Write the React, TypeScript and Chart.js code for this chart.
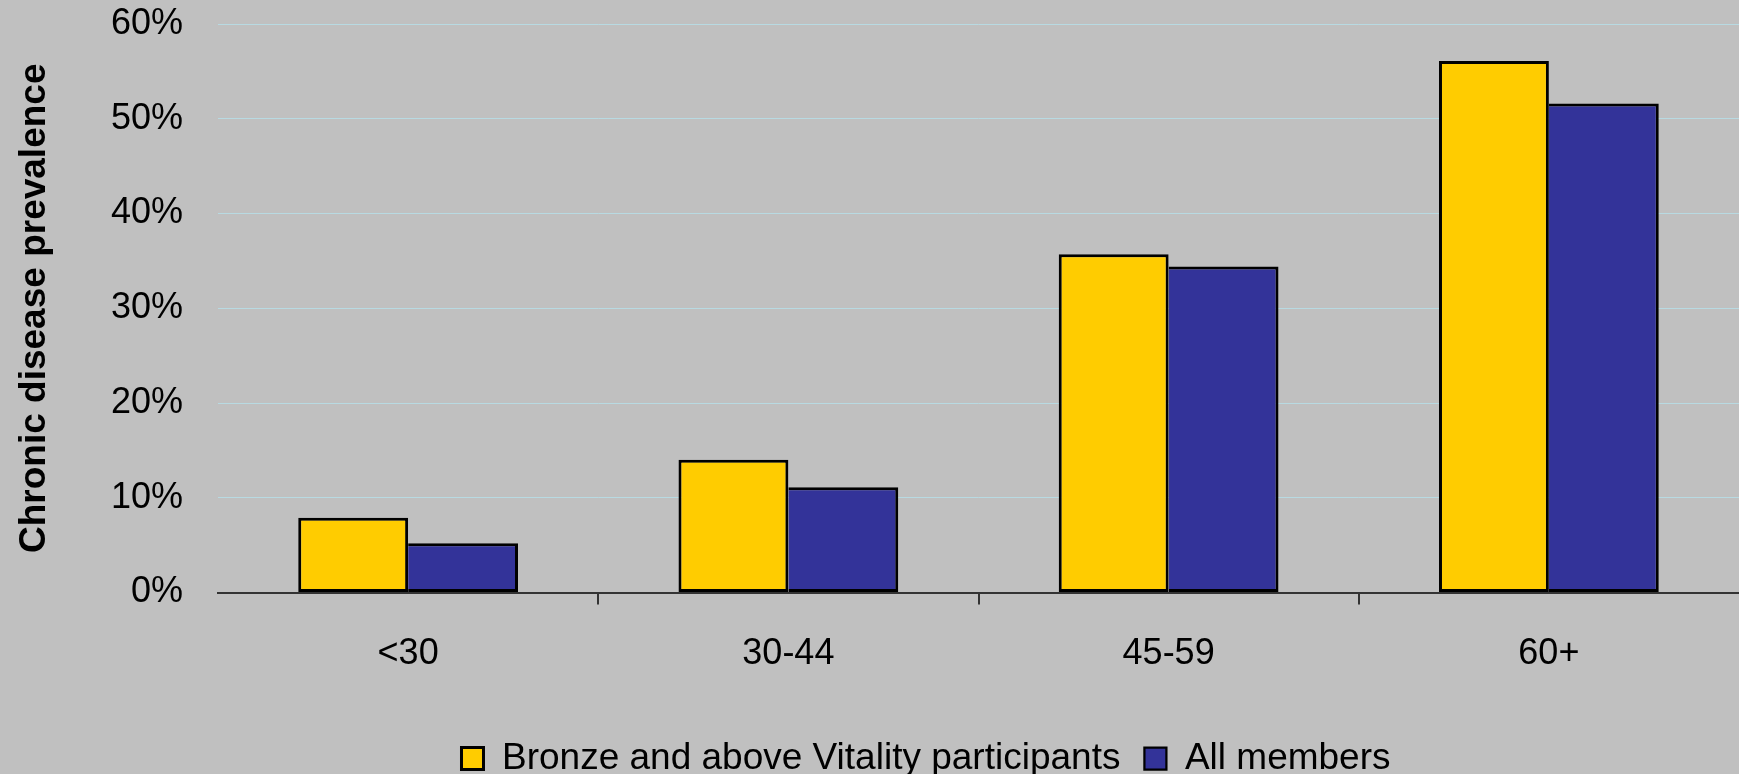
import React, { useEffect, useRef } from 'react';
import { Chart, registerables } from 'chart.js';

Chart.register(...registerables);

const categories = ['<30', '30-44', '45-59', '60+'];
const bronzeValues = [7.9, 14.0, 35.7, 56.1];
const allMembersValues = [5.2, 11.1, 34.4, 51.6];
const seriesLabels = ['Bronze and above Vitality participants', 'All members'];
const yTicks = [0, 10, 20, 30, 40, 50, 60];
const yAxisTitle = 'Chronic disease prevalence';

const FONT = "'Liberation Sans', Arial, Helvetica, sans-serif";
const LEGEND_DX = 55;
const LEGEND_DY = 13;

export default function App() {
  const ref = useRef<HTMLCanvasElement>(null);

  useEffect(() => {
    document.body.style.margin = '0';
    document.body.style.background = '#C0C0C0';
    const canvas = ref.current;
    if (!canvas) return;

    const legendShift = {
      id: 'legendShift',
      afterLayout(chart: any) {
        const l = chart.legend;
        if (!l) return;
        l.left += LEGEND_DX;
        l.right += LEGEND_DX;
        l.top += LEGEND_DY;
        l.bottom += LEGEND_DY;
      },
    };

    const chart = new Chart(canvas, {
      type: 'bar',
      data: {
        labels: categories,
        datasets: [
          {
            label: seriesLabels[0],
            data: bronzeValues,
            backgroundColor: '#FFCC00',
            borderColor: '#000000',
            borderWidth: { left: 3, top: 3, right: 3, bottom: 3 },
            borderSkipped: false,
            categoryPercentage: 0.578,
            barPercentage: 1.0,
          },
          {
            label: seriesLabels[1],
            data: allMembersValues,
            backgroundColor: '#333399',
            borderColor: '#000000',
            borderWidth: { left: 0, top: 3, right: 3, bottom: 3 },
            borderSkipped: false,
            categoryPercentage: 0.578,
            barPercentage: 1.0,
          },
        ],
      },
      options: {
        responsive: false,
        animation: false,
        devicePixelRatio: 1,
        layout: { padding: { top: 24, left: 0, right: -3, bottom: 0 } },
        plugins: {
          legend: {
            position: 'bottom',
            labels: {
              boxWidth: 22,
              boxHeight: 22,
              padding: 24,
              color: '#000',
              font: { family: FONT, size: 37 },
            },
          },
          tooltip: { enabled: false },
        },
        scales: {
          x: {
            offset: true,
            grid: {
              offset: true,
              drawOnChartArea: false,
              drawTicks: true,
              tickLength: 12,
              lineWidth: 2,
              color: (c: any) => (c.type === 'tick' && c.index > 0 ? '#333333' : 'rgba(0,0,0,0)'),
              tickColor: (c: any) => (c.type === 'tick' && c.index > 0 ? '#333333' : 'rgba(0,0,0,0)'),
            },
            border: { display: true, color: '#333333', width: 2 },
            ticks: {
              color: '#000',
              padding: 28,
              maxRotation: 0,
              font: { family: FONT, size: 36 },
            },
            afterFit: (s: any) => {
              s.height = 110.5;
              s.paddingLeft = 0;
              s.paddingRight = 0;
            },
          },
          y: {
            min: 0,
            max: 60,
            afterBuildTicks: (s: any) => {
              s.ticks = yTicks.map((v) => ({ value: v }));
            },
            grid: {
              drawTicks: false,
              lineWidth: 1,
              color: (c: any) => (c.tick && c.tick.value === 0 ? 'rgba(0,0,0,0)' : 'rgb(184,218,226)'),
            },
            border: { display: false },
            ticks: {
              color: '#000',
              padding: 35,
              font: { family: FONT, size: 36 },
              callback: (v: any) => v + '%',
            },
            title: {
              display: true,
              text: yAxisTitle,
              color: '#000',
              padding: { top: 13, bottom: 0 },
              font: { family: FONT, size: 37, weight: 'bold' },
            },
            afterFit: (s: any) => {
              s.width = 218;
              s.paddingTop = 0;
              s.paddingBottom = 0;
            },
          },
        },
      },
      plugins: [legendShift],
    });

    return () => chart.destroy();
  }, []);

  return (
    <div style={{ width: 1739, height: 774, background: '#C0C0C0', overflow: 'hidden' }}>
      <canvas ref={ref} width={1739} height={774} style={{ display: 'block' }} />
    </div>
  );
}
